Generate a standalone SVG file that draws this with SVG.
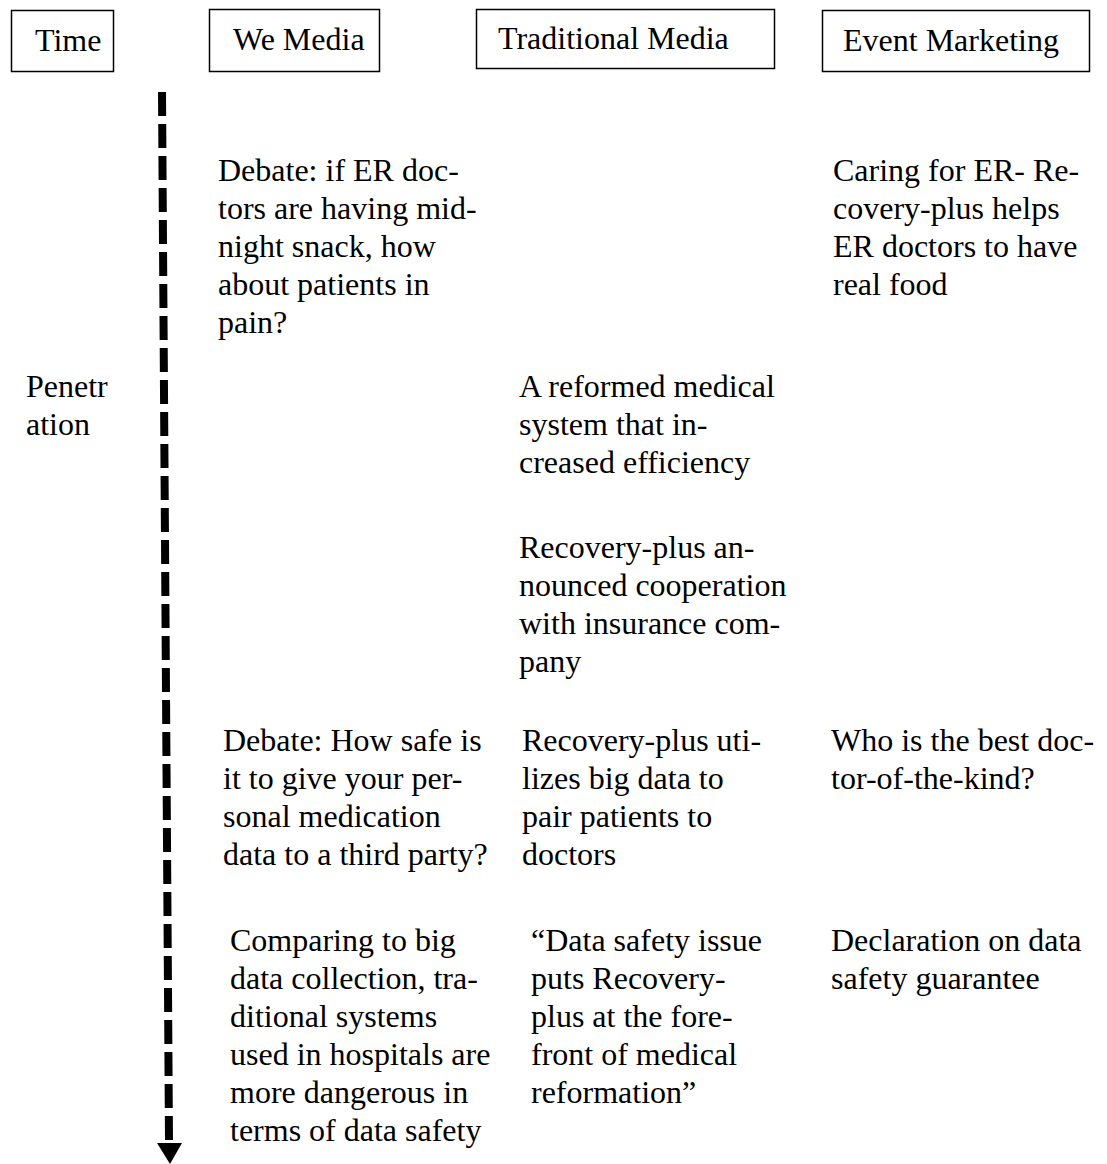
<svg xmlns="http://www.w3.org/2000/svg" width="1107" height="1164" viewBox="0 0 1107 1164">
  <style>
    .box { fill: #ffffff; stroke: #000000; stroke-width: 1.5; }
    .t { font-family: "Liberation Serif", "Times New Roman", serif; font-size: 32px; fill: #000000; }
    .axis { stroke: #000000; stroke-width: 8; stroke-dasharray: 24 8; fill: none; }
  </style>
  <rect width="1107" height="1164" fill="#ffffff"/>

  <!-- column headers -->
  <g id="hdr-time">
    <rect class="box" x="11.5" y="10.5" width="102" height="61"/>
    <text class="t" x="35" y="51">Time</text>
  </g>
  <g id="hdr-we-media">
    <rect class="box" x="209.5" y="9.5" width="170" height="62"/>
    <text class="t" x="233" y="50">We Media</text>
  </g>
  <g id="hdr-traditional">
    <rect class="box" x="476.5" y="9.5" width="298" height="59"/>
    <text class="t" x="498" y="49">Traditional Media</text>
  </g>
  <g id="hdr-event">
    <rect class="box" x="822.5" y="10.5" width="267" height="61"/>
    <text class="t" x="843" y="51">Event Marketing</text>
  </g>

  <!-- time axis -->
  <g id="connectors">
    <line class="axis" x1="162" y1="92" x2="169" y2="1141"/>
    <polygon points="157,1143 182,1143 170,1164" fill="#000000"/>
  </g>

  <g id="phase-label">
    <text class="t" x="26" y="397">Penetr</text>
    <text class="t" x="26" y="435">ation</text>
  </g>

  <!-- row 1 -->
  <g id="we-1">
    <text class="t" x="218">
      <tspan x="218" y="181">Debate: if ER doc-</tspan>
      <tspan x="218" y="219">tors are having mid-</tspan>
      <tspan x="218" y="257">night snack, how</tspan>
      <tspan x="218" y="295">about patients in</tspan>
      <tspan x="218" y="333">pain?</tspan>
    </text>
  </g>
  <g id="event-1">
    <text class="t">
      <tspan x="833" y="181">Caring for ER- Re-</tspan>
      <tspan x="833" y="219">covery-plus helps</tspan>
      <tspan x="833" y="257">ER doctors to have</tspan>
      <tspan x="833" y="295">real food</tspan>
    </text>
  </g>

  <!-- row 2 -->
  <g id="trad-1">
    <text class="t">
      <tspan x="519" y="397">A reformed medical</tspan>
      <tspan x="519" y="435">system that in-</tspan>
      <tspan x="519" y="473">creased efficiency</tspan>
    </text>
  </g>
  <g id="trad-2">
    <text class="t">
      <tspan x="519" y="558">Recovery-plus an-</tspan>
      <tspan x="519" y="596">nounced cooperation</tspan>
      <tspan x="519" y="634">with insurance com-</tspan>
      <tspan x="519" y="672">pany</tspan>
    </text>
  </g>

  <!-- row 3 -->
  <g id="we-2">
    <text class="t">
      <tspan x="223" y="751">Debate: How safe is</tspan>
      <tspan x="223" y="789">it to give your per-</tspan>
      <tspan x="223" y="827">sonal medication</tspan>
      <tspan x="223" y="865">data to a third party?</tspan>
    </text>
  </g>
  <g id="trad-3">
    <text class="t">
      <tspan x="522" y="751">Recovery-plus uti-</tspan>
      <tspan x="522" y="789">lizes big data to</tspan>
      <tspan x="522" y="827">pair patients to</tspan>
      <tspan x="522" y="865">doctors</tspan>
    </text>
  </g>
  <g id="event-2">
    <text class="t">
      <tspan x="831" y="751">Who is the best doc-</tspan>
      <tspan x="831" y="789">tor-of-the-kind?</tspan>
    </text>
  </g>

  <!-- row 4 -->
  <g id="we-3">
    <text class="t">
      <tspan x="230" y="951">Comparing to big</tspan>
      <tspan x="230" y="989">data collection, tra-</tspan>
      <tspan x="230" y="1027">ditional systems</tspan>
      <tspan x="230" y="1065">used in hospitals are</tspan>
      <tspan x="230" y="1103">more dangerous in</tspan>
      <tspan x="230" y="1141">terms of data safety</tspan>
    </text>
  </g>
  <g id="trad-4">
    <text class="t">
      <tspan x="531" y="951">“Data safety issue</tspan>
      <tspan x="531" y="989">puts Recovery-</tspan>
      <tspan x="531" y="1027">plus at the fore-</tspan>
      <tspan x="531" y="1065">front of medical</tspan>
      <tspan x="531" y="1103">reformation”</tspan>
    </text>
  </g>
  <g id="event-3">
    <text class="t">
      <tspan x="831" y="951">Declaration on data</tspan>
      <tspan x="831" y="989">safety guarantee</tspan>
    </text>
  </g>
</svg>
